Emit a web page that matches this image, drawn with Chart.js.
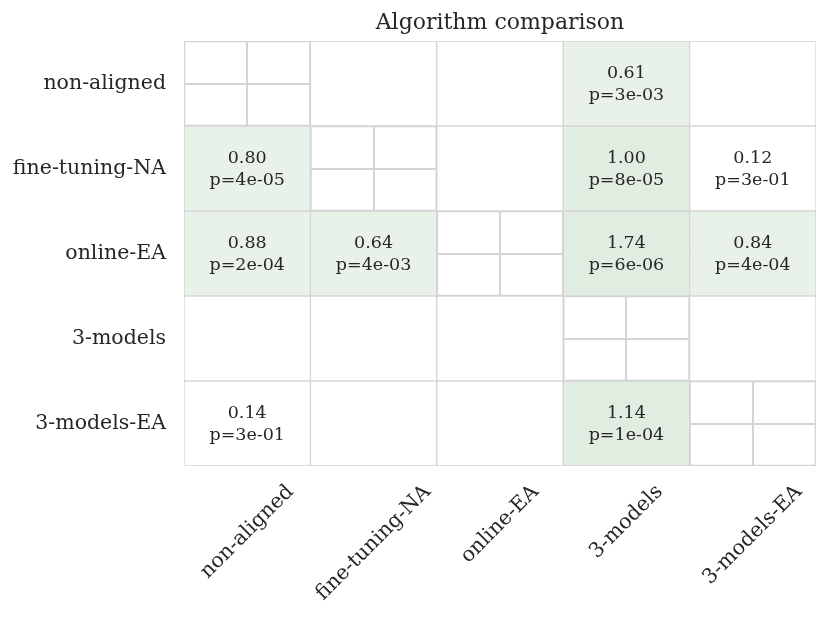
<!DOCTYPE html>
<html>
<head>
<meta charset="utf-8">
<script src="https://cdn.jsdelivr.net/npm/chart.js@4/dist/chart.umd.min.js"></script>
<style>
  html, body { margin: 0; padding: 0; background: #fff; }
  #wrap { width: 831px; height: 619px; position: relative; }
</style>
</head>
<body>
<div id="wrap"><canvas id="cmp"></canvas></div>
<script>
const algos = ["non-aligned", "fine-tuning-NA", "online-EA", "3-models", "3-models-EA"];
const title = "Algorithm comparison";

// effect values per row (null = diagonal, 0 = empty cell)
const effect = [
    [null, 0, 0, 0.61, 0],
    [0.80, null, 0, 1.00, 0.12],
    [0.88, 0.64, null, 1.74, 0.84],
    [0, 0, 0, null, 0],
    [0.14, 0, 0, 1.14, null]
];
const pvals = [
    [null, null, null, "3e-03", null],
    ["4e-05", null, null, "8e-05", "3e-01"],
    ["2e-04", "4e-03", null, "6e-06", "4e-04"],
    [null, null, null, null, null],
    ["3e-01", null, null, "1e-04", null]
];

const FONT = "'DejaVu Serif', serif";
const TXT = "#262626";
const EDGE = "#d4d4d4";

function cellColor(v, p) {
    if (v === null) return "rgba(0,0,0,0)";
    if (p === null || parseFloat(p) >= 0.05) return "#ffffff";
    return v >= 1 ? "#e2ede2" : "#e8f2e8";
}

const datasets = algos.map((row, i) => ({
    label: row,
    data: algos.map(() => [i, i + 1]),
    backgroundColor: algos.map((c, j) => cellColor(effect[i][j], pvals[i][j])),
    borderColor: EDGE,
    borderWidth: 1,
    borderSkipped: false,
    grouped: false,
    barPercentage: 1,
    categoryPercentage: 1
}));

const cellText = {
    id: "cellText",
    afterDatasetsDraw(chart) {
        const ctx = chart.ctx;
        const xs = chart.scales.x, ys = chart.scales.y;
        ctx.save();
        ctx.fillStyle = TXT;
        ctx.font = "17.5px " + FONT;
        ctx.textAlign = "center";
        ctx.textBaseline = "middle";
        effect.forEach((row, i) => row.forEach((v, j) => {
            if (!v) return;
            const x = xs.getPixelForValue(j);
            const y = ys.getPixelForValue(i + 0.5);
            ctx.fillText(v.toFixed(2), x, y - 10);
            ctx.fillText("p=" + pvals[i][j], x, y + 12);
        }));
        // title over plot area
        const a = chart.chartArea;
        ctx.font = "22px " + FONT;
        ctx.textBaseline = "alphabetic";
        ctx.fillText(title, (a.left + a.right) / 2, 29);
        // rotated x labels, bbox centred on tick, top aligned
        ctx.font = "20.5px " + FONT;
        algos.forEach((lab, j) => {
            const w = ctx.measureText(lab).width;
            const h = 16;
            const half = (w + h) * Math.SQRT1_2 / 2;
            const cx = xs.getPixelForValue(j);
            const cy = a.bottom + 17 + half;
            ctx.save();
            ctx.translate(cx, cy);
            ctx.rotate(-Math.PI / 4);
            ctx.textBaseline = "middle";
            ctx.fillText(lab, 0, 0);
            ctx.restore();
        });
        ctx.restore();
    }
};

new Chart(document.getElementById("cmp").getContext("2d"), {
    type: "bar",
    data: { labels: algos, datasets: datasets },
    plugins: [cellText],
    options: {
        responsive: true,
        maintainAspectRatio: false,
        animation: false,
        layout: { padding: { top: 41, right: 15, left: 0, bottom: 0 } },
        plugins: {
            legend: { display: false },
            title: { display: false },
            tooltip: { enabled: false }
        },
        scales: {
            x: {
                type: "category",
                offset: true,
                grid: { offset: false, color: EDGE, lineWidth: 2, drawTicks: false },
                border: { display: false },
                ticks: { display: false },
                afterFit: (s) => { s.height = 153; }
            },
            y: {
                type: "linear",
                min: 0,
                max: 5,
                reverse: true,
                grid: { color: EDGE, lineWidth: 2, drawTicks: false },
                border: { display: false },
                afterBuildTicks: (s) => { s.ticks = algos.map((a, i) => ({ value: i + 0.5 })); },
                afterFit: (s) => { s.width = 184; },
                ticks: {
                    padding: 18,
                    color: TXT,
                    font: { family: FONT, size: 20.5 },
                    callback: (v) => algos[Math.floor(v)]
                }
            }
        }
    }
});
</script>
</body>
</html>
